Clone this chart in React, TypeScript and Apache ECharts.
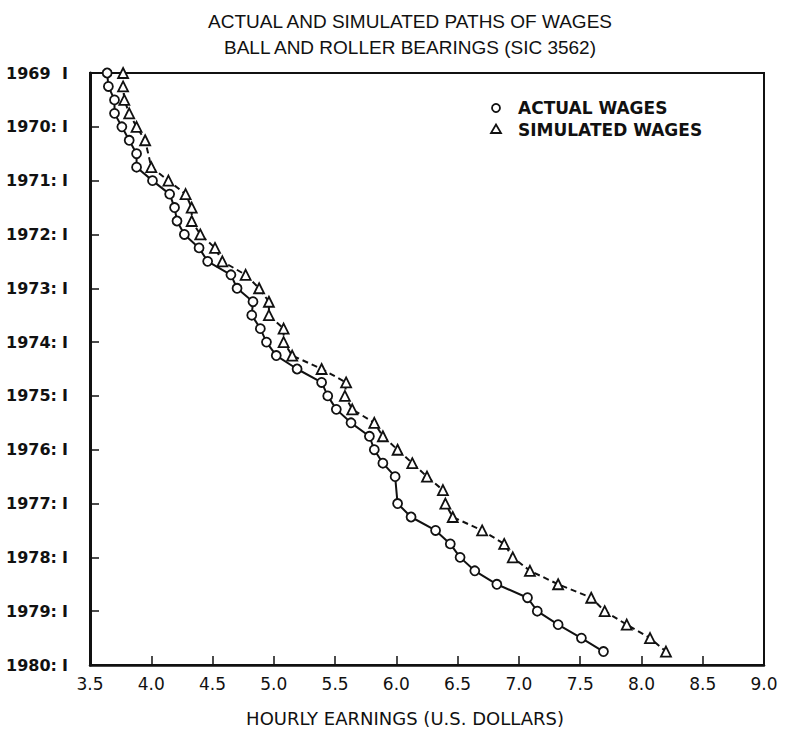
import React, { useEffect, useRef } from "react";
import * as echarts from "echarts";

const titleLines = ["ACTUAL AND SIMULATED PATHS OF WAGES", "BALL AND ROLLER BEARINGS (SIC 3562)"];
const xAxisName = "HOURLY EARNINGS (U.S. DOLLARS)";
const legendNames = ["ACTUAL WAGES", "SIMULATED WAGES"];

// quarterly observations
const quarters = [
  "1969 I", "1969 II", "1969 III", "1969 IV",
  "1970 I", "1970 II", "1970 III", "1970 IV",
  "1971 I", "1971 II", "1971 III", "1971 IV",
  "1972 I", "1972 II", "1972 III", "1972 IV",
  "1973 I", "1973 II", "1973 III", "1973 IV",
  "1974 I", "1974 II", "1974 III", "1974 IV",
  "1975 I", "1975 II", "1975 III", "1975 IV",
  "1976 I", "1976 II", "1976 III", "1976 IV",
  "1977 I", "1977 II", "1977 III", "1977 IV",
  "1978 I", "1978 II", "1978 III", "1978 IV",
  "1979 I", "1979 II", "1979 III", "1979 IV",
];

const actualWages = [
  3.64, 3.65, 3.70, 3.70,
  3.76, 3.82, 3.88, 3.88,
  4.01, 4.15, 4.19, 4.21,
  4.27, 4.39, 4.46, 4.65,
  4.70, 4.83, 4.82, 4.89,
  4.94, 5.02, 5.19, 5.39,
  5.44, 5.51, 5.63, 5.78,
  5.82, 5.89, 5.99, null,
  6.01, 6.12, 6.32, 6.44,
  6.52, 6.64, 6.82, 7.07,
  7.15, 7.32, 7.51, 7.69,
];

const simulatedWages = [
  3.77, 3.77, 3.78, 3.82,
  3.88, 3.95, null, 4.00,
  4.14, 4.28, 4.33, 4.33,
  4.40, 4.52, 4.58, 4.77,
  4.88, 4.96, 4.96, 5.08,
  5.08, 5.15, 5.39, 5.59,
  5.58, 5.64, 5.82, 5.89,
  6.01, 6.13, 6.25, 6.38,
  6.40, 6.46, 6.70, 6.88,
  6.95, 7.09, 7.32, 7.59,
  7.70, 7.88, 8.07, 8.20,
];

const yearTicks = [1969, 1970, 1971, 1972, 1973, 1974, 1975, 1976, 1977, 1978, 1979, 1980];
const xMin = 3.5;
const xMax = 9.0;
const xStep = 0.5;

const romanToIndex: Record<string, number> = { I: 0, II: 1, III: 2, IV: 3 };
function quarterPos(q: string): number {
  const [y, r] = q.split(" ");
  return Number(y) + romanToIndex[r] / 4;
}

function buildSeries(values: (number | null)[]) {
  const out: [number, number][] = [];
  values.forEach((v, i) => {
    if (v !== null) out.push([v, quarterPos(quarters[i])]);
  });
  return out;
}

const FONT = "DejaVu Sans";

export default function App() {
  const ref = useRef<HTMLDivElement>(null);
  useEffect(() => {
    if (!ref.current) return;
    const chart = echarts.init(ref.current, undefined, { renderer: "svg" });
    chart.setOption({
      animation: false,
      backgroundColor: "#fff",
      title: {
        text: titleLines.join("\n"),
        left: 405,
        top: 3,
        textAlign: "center",
        textStyle: {
          fontFamily: "Liberation Sans",
          fontSize: 19,
          fontWeight: "normal",
          color: "#111",
          lineHeight: 26,
        },
      },
      grid: {
        left: 90,
        right: 25,
        top: 73,
        bottom: 67,
        show: true,
        borderColor: "#111",
        borderWidth: 2,
        backgroundColor: "transparent",
      },
      xAxis: {
        type: "value",
        min: xMin,
        max: xMax,
        interval: xStep,
        name: xAxisName,
        nameLocation: "middle",
        nameGap: 44,
        nameTextStyle: {
          fontFamily: FONT,
          fontSize: 18,
          color: "#111",
          padding: [0, 44, 0, 0],
        },
        axisLine: { show: true, lineStyle: { color: "#111", width: 2.5 } },
        axisTick: { show: true, inside: true, length: 9, lineStyle: { color: "#111", width: 1.5 } },
        axisLabel: {
          fontFamily: FONT,
          fontSize: 17,
          color: "#111",
          margin: 10,
          formatter: (v: number) => v.toFixed(1),
        },
        splitLine: { show: false },
      },
      yAxis: {
        type: "value",
        inverse: true,
        min: yearTicks[0],
        max: yearTicks[yearTicks.length - 1],
        interval: 1,
        axisLine: { show: true, lineStyle: { color: "#111", width: 3 } },
        axisTick: { show: true, inside: true, length: 9, lineStyle: { color: "#111", width: 1.5 } },
        axisLabel: {
          margin: 22,
          formatter: (v: number) => (v === 1969 ? `{a|${v}}{b|I}` : `{a|${v}:}{b|I}`),
          rich: {
            a: { fontFamily: FONT, fontSize: 16, fontWeight: "bold", color: "#111", width: 56, align: "left" },
            b: { fontFamily: FONT, fontSize: 16, fontWeight: "bold", color: "#111", width: 6, align: "left" },
          },
        },
        splitLine: { show: false },
      },
      series: [
        {
          name: legendNames[0],
          type: "line",
          data: buildSeries(actualWages),
          symbol: "circle",
          symbolSize: 9,
          lineStyle: { color: "#111", width: 2 },
          itemStyle: { color: "#fff", borderColor: "#111", borderWidth: 1.8 },
          z: 3,
        },
        {
          name: legendNames[1],
          type: "line",
          data: buildSeries(simulatedWages),
          symbol: "triangle",
          symbolSize: 10,
          lineStyle: { color: "#111", width: 2, type: [6, 4] },
          itemStyle: { color: "#fff", borderColor: "#111", borderWidth: 1.8 },
          z: 3,
        },
      ],
      graphic: [
        {
          type: "circle",
          shape: { cx: 496, cy: 108, r: 4 },
          style: { fill: "#fff", stroke: "#111", lineWidth: 1.8 },
        },
        {
          type: "text",
          x: 518,
          y: 108,
          style: {
            text: legendNames[0],
            fontFamily: FONT,
            fontSize: 17,
            fontWeight: "bold",
            fill: "#111",
            verticalAlign: "middle",
          },
        },
        {
          type: "polygon",
          shape: { points: [[491, 133], [501, 133], [496, 124.5]] },
          style: { fill: "#fff", stroke: "#111", lineWidth: 1.8 },
        },
        {
          type: "text",
          x: 518,
          y: 130,
          style: {
            text: legendNames[1],
            fontFamily: FONT,
            fontSize: 17,
            fontWeight: "bold",
            fill: "#111",
            verticalAlign: "middle",
          },
        },
      ],
    });
    return () => chart.dispose();
  }, []);
  return (
    <div
      ref={ref}
      style={{ position: "fixed", left: 0, top: 0, width: 789, height: 732, background: "#fff" }}
    />
  );
}
